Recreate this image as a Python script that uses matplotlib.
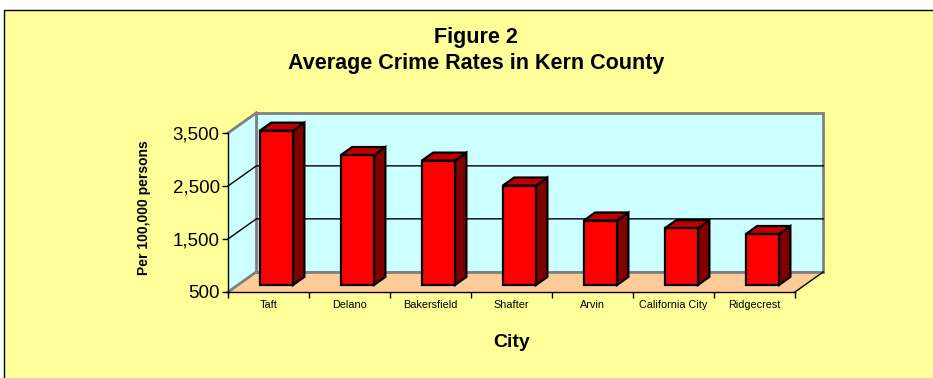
import matplotlib.pyplot as plt
from matplotlib.patches import Rectangle, Polygon
from matplotlib.ticker import FuncFormatter

plt.rcParams['font.family'] = ['Liberation Sans', 'DejaVu Sans']

cities = ['Taft', 'Delano', 'Bakersfield', 'Shafter', 'Arvin',
          'California City', 'Ridgecrest']
crime_rates = [3410, 2950, 2845, 2375, 1715, 1570, 1460]
y_ticks = [500, 1500, 2500, 3500]

W, H = 933, 378
fig = plt.figure(figsize=(W / 100, H / 100), dpi=100, facecolor='white')

# yellow chart area with a thin black frame
fig.patches.append(Rectangle((4 / W, -0.1), 1.2, 1.1 - 10 / H,
                             transform=fig.transFigure, facecolor='#FFFF99',
                             edgecolor='black', lw=1, zorder=-1))

# front plane of the plot area
ax = fig.add_axes([228 / W, 86 / H, 567 / W, 159 / H])
ax.set_facecolor('none')
n = len(cities)
ymin, ymax = y_ticks[0], y_ticks[-1]
ax.set_xlim(0, n)
ax.set_ylim(ymin, ymax)

# oblique depth offsets (in data units)
DX, DY = 0.35, 380
wall_grey = '#808080'

# back wall
back = Rectangle((DX, ymin + DY), n, ymax - ymin, facecolor='#CCFFFF',
                 edgecolor=wall_grey, lw=2, clip_on=False, zorder=0.5)
ax.add_patch(back)
# left side wall
side = Polygon([(0, ymin), (0, ymax), (DX, ymax + DY), (DX, ymin + DY)],
               closed=True, facecolor='#CCFFFF', edgecolor='none',
               clip_on=False, zorder=0.5)
ax.add_patch(side)
# floor
floor = Polygon([(0, ymin), (n, ymin), (n + DX, ymin + DY), (DX, ymin + DY)],
                closed=True, facecolor='#FFCC99', edgecolor='none',
                clip_on=False, zorder=0.6)
ax.add_patch(floor)
ax.plot([DX, n + DX], [ymin + DY, ymin + DY], color=wall_grey, lw=2,
        clip_on=False, zorder=0.7)
ax.plot([DX, DX], [ymin + DY, ymax + DY], color=wall_grey, lw=2,
        clip_on=False, zorder=0.7)
ax.plot([0, DX], [ymin, ymin + DY], color=wall_grey, lw=2,
        clip_on=False, zorder=0.7)
ax.plot([0, DX], [ymax, ymax + DY], color=wall_grey, lw=2,
        clip_on=False, zorder=0.7)
ax.plot([n, n + DX], [ymin, ymin + DY], color='black', lw=1,
        clip_on=False, zorder=0.7)

# gridlines on back wall with their diagonals
for v in y_ticks[1:-1]:
    ax.plot([0, DX, n + DX], [v, v + DY, v + DY], color='black', lw=1,
            clip_on=False, zorder=0.8)

# 3-D bars
bar_w = 0.41
f0, f1 = 0.35, 0.75
for i, val in enumerate(crime_rates):
    x0 = i + 0.5 - bar_w / 2 + f0 * DX * 0.8
    oy = f0 * DY
    bx, by = (f1 - f0) * DX, (f1 - f0) * DY
    base = ymin + oy
    top = val + oy
    x1 = x0 + bar_w
    kw = dict(closed=True, edgecolor='black', lw=1.6, clip_on=False,
              joinstyle='miter', zorder=2)
    ax.add_patch(Polygon([(x1, base), (x1 + bx, base + by),
                          (x1 + bx, top + by), (x1, top)],
                         facecolor='#800000', **kw))
    ax.add_patch(Polygon([(x0, top), (x1, top), (x1 + bx, top + by),
                          (x0 + bx, top + by)],
                         facecolor='#C00000', **kw))
    ax.add_patch(Polygon([(x0, base), (x1, base), (x1, top), (x0, top)],
                         facecolor='#FF0000', **kw))

for s in ['top', 'right']:
    ax.spines[s].set_visible(False)
for s in ['left', 'bottom']:
    ax.spines[s].set_color('black')
    ax.spines[s].set_linewidth(1)
    ax.spines[s].set_zorder(3)

ax.set_yticks(y_ticks)
ax.yaxis.set_major_formatter(FuncFormatter(lambda v, p: f'{int(v):,}'))
ax.tick_params(axis='y', direction='out', length=4, width=1, pad=2,
               labelsize=13.5)
ax.set_xticks(range(n + 1))
ax.set_xticklabels([])
ax.set_xticks([i + 0.5 for i in range(n)], minor=True)
ax.set_xticklabels(cities, minor=True, fontsize=7.8)
ax.tick_params(axis='x', which='major', direction='out', length=4, width=1)
ax.tick_params(axis='x', which='minor', length=0, pad=6)

ax.set_ylabel('Per 100,000 persons', fontsize=10, fontweight='bold')
ax.yaxis.set_label_coords(-0.135, 0.53)
ax.set_xlabel('City', fontsize=14, fontweight='bold', labelpad=17)

fig.text(476 / W, 1 - 37 / H, 'Figure 2', ha='center', va='center',
         fontsize=15.5, fontweight='bold')
fig.text(476 / W, 1 - 64 / H, 'Average Crime Rates in Kern County',
         ha='center', va='center', fontsize=15.5, fontweight='bold')

fig.savefig('out.png', dpi=100, facecolor='white')
